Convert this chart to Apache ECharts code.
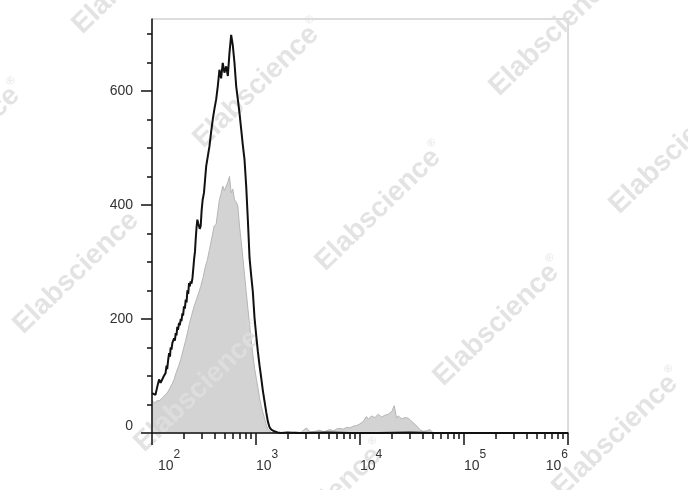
<!DOCTYPE html>
<html><head><meta charset="utf-8">
<script src="https://cdn.jsdelivr.net/npm/echarts@6/dist/echarts.min.js"></script>
<style>html,body{margin:0;padding:0;background:#fff}#c{width:688px;height:490px}</style>
</head><body><div id="c"></div>
<script>
// Stained sample (black outline): fluorescence intensity and event count
const blackIntensity = [100,104,108,112,117,121,126,130,135,138,140,143,146,149,151,154,157,160,163,166,169,172,175,178,182,185,189,192,196,199,203,207,211,215,219,223,227,231,235,240,245,250,254,259,263,268,273,278,283,288,294,300,307,316,324,332,344,357,370,384,398,414,429,445,462,479,497,517,536,556,577,598,621,645,669,694,721,747,775,805,835,867,900,932,968,1006,1042,1082,1124,1165,1209,1255,1301,1350,1403,1500,1613,1750,2000,2500,3000,5000,8000,15000,30000,50000,100000,300000,1000000];
const blackCount = [70,72,67,80,94,88,91,100,105,118,112,128,140,134,150,146,158,155,166,162,175,171,186,181,193,189,200,196,210,206,222,218,234,229,250,244,263,257,266,262,272,290,305,318,339,360,374,368,366,358,363,390,409,421,445,468,485,503,527,550,568,585,608,637,622,649,632,643,626,667,698,680,649,608,585,561,532,505,480,433,374,307,275,248,202,170,143,118,96,74,55,36,20,10,6,3,1,0,1,0,0,1,0,0,1,0,0,0,0];
// Control (gray filled)
const grayIntensity = [100,103,106,110,114,118,121,127,132,140,148,156,163,171,180,189,199,209,219,229,240,254,265,280,294,309,324,341,357,374,396,414,430,445,462,479,497,517,536,556,577,598,621,645,669,694,721,747,775,805,835,867,900,932,968,1006,1042,1082,1124,1165,1209,1255,1301,1350,1400,1500,1800,2100,2400,2700,3050,3300,3700,4100,4500,5100,5600,6100,6900,7500,8000,8600,9250,10000,10700,11550,12000,12430,12900,13380,13900,14430,15000,15520,16100,16700,17300,18000,18700,19380,20300,21320,22480,23300,24190,25100,26020,27500,29090,30700,32500,34400,36300,38400,40570,43700,47080,50000,53000,100000,1000000];
const grayCount = [58,55,52,56,58,57,58,62,66,70,78,86,94,106,117,129,145,160,175,192,206,222,232,245,257,272,290,304,322,340,363,366,390,409,420,433,425,427,440,450,421,428,409,405,398,363,336,308,278,248,219,190,161,138,114,96,80,61,47,36,26,14,6,3,1,0,1,0,2,1,9,2,3,5,2,6,4,8,7,10,9,12,13,16,20,29,24,26,30,32,27,29,33,32,28,26,31,29,33,35,38,48,26,30,29,25,23,27,26,22,18,14,9,5,3,4,6,1,0,0,0];

const xMajorTicks = [100, 1000, 10000, 100000, 1000000];
const yMajorTicks = [0, 200, 400, 600];
const yMinorTicks = [0, 50, 100, 150, 200, 250, 300, 350, 400, 450, 500, 550, 600, 650, 700];
const xMinorTicks = [];
for (let d = 100; d < 1000000; d *= 10) { for (let m = 2; m <= 9; m++) xMinorTicks.push(m * d); }

const watermarkCenters = [[138,-30],[-40,145],[259,84],[555,32],[79,270],[381,207],[675,150],[200,388],[499,322],[322,505],[618,433]];

const FONT = "'Liberation Sans', Arial, sans-serif";
const pairs = (xs, ys) => xs.map((x, i) => [x, ys[i]]);

const chart = echarts.init(document.getElementById('c'), null, {renderer: 'canvas'});
const tickStyle = {color: '#111', width: 1.5};
chart.setOption({
  animation: false,
  backgroundColor: '#fff',
  grid: {left: 152, right: 120, top: 19, bottom: 57, show: true, borderColor: '#b8b8b8', borderWidth: 1},
  xAxis: [
    {
      type: 'log', logBase: 10, min: 100, max: 1000000, position: 'bottom', z: 5,
      axisLine: {show: true, onZero: false, lineStyle: {color: '#111', width: 1.5}},
      axisTick: {show: true, customValues: xMajorTicks, length: 12, lineStyle: tickStyle},
      splitLine: {show: false},
      axisLabel: {
        customValues: xMajorTicks, margin: 16, align: 'left', alignMaxLabel: 'right',
        formatter: function (v) {
          const e = Math.round(Math.log10(v));
          return (e === 2 ? '{b0|10}' : '{b|10}') + '{s|' + e + '}';
        },
        rich: {
          b: {fontSize: 14, fontFamily: FONT, color: '#333', lineHeight: 24, verticalAlign: 'bottom'},
          b0: {fontSize: 14, fontFamily: FONT, color: '#333', lineHeight: 24, verticalAlign: 'bottom', padding: [0, 0, 0, 6]},
          s: {fontSize: 12, fontFamily: FONT, color: '#333', verticalAlign: 'top'}
        }
      }
    },
    {
      type: 'log', logBase: 10, min: 100, max: 1000000, position: 'bottom', z: 5,
      axisLine: {show: false, onZero: false},
      axisTick: {show: true, customValues: xMinorTicks, length: 6, lineStyle: tickStyle},
      axisLabel: {show: false}, splitLine: {show: false}
    }
  ],
  yAxis: [
    {
      type: 'value', min: 0, max: 726, position: 'left', z: 5,
      axisLine: {show: true, onZero: false, lineStyle: {color: '#111', width: 1.5}},
      axisTick: {show: true, customValues: yMinorTicks, length: 5, lineStyle: tickStyle},
      axisLabel: {show: false}, splitLine: {show: false}
    },
    {
      type: 'value', min: 0, max: 726, position: 'left', z: 5,
      axisLine: {show: false, onZero: false},
      axisTick: {show: true, customValues: yMajorTicks, length: 11, lineStyle: tickStyle},
      axisLabel: {customValues: yMajorTicks, margin: 19, fontSize: 14, fontFamily: FONT, color: '#333', verticalAlignMinLabel: 'bottom'},
      splitLine: {show: false}
    }
  ],
  graphic: watermarkCenters.map(c => ({
    type: 'text', x: c[0], y: c[1], rotation: 0.77, z: 2, silent: true,
    style: {
      text: '{m|Elabscience}{r|®}', align: 'center', verticalAlign: 'middle',
      rich: {
        m: {fontSize: 28, fontWeight: 'bold', fontFamily: FONT, fill: 'rgba(222,222,222,0.85)'},
        r: {fontSize: 11, fontFamily: FONT, fill: 'rgba(222,222,222,0.85)', verticalAlign: 'top', lineHeight: 32}
      }
    }
  })),
  series: [
    {
      type: 'line', name: 'control', xAxisIndex: 0, yAxisIndex: 0, z: 1,
      data: pairs(grayIntensity, grayCount), showSymbol: false, symbol: 'none',
      lineStyle: {color: '#b5b5b5', width: 1}, areaStyle: {color: '#d3d3d3', opacity: 1}
    },
    {
      type: 'line', name: 'stained', xAxisIndex: 0, yAxisIndex: 0, z: 3,
      data: pairs(blackIntensity, blackCount), showSymbol: false, symbol: 'none',
      lineStyle: {color: '#111', width: 2}
    }
  ]
});
</script>
</body></html>
